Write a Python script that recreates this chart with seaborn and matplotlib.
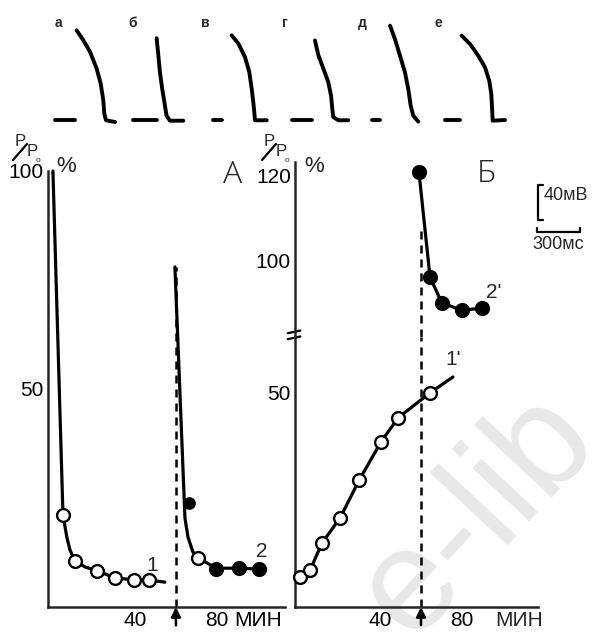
import matplotlib
matplotlib.use("Agg")
import matplotlib.pyplot as plt
import seaborn as sns

# ---------------- data ----------------
# Action potential repolarisation traces (time in ms, potential in mV above rest)
trace_labels = ["а", "б", "в", "г", "д", "е"]
rest_t = [[0, 140], [0, 167], [0, 63], [0, 140], [0, 56], [0, 105]]
ap_t = [
    [151, 198, 244, 291, 319, 337, 344, 356, 419],
    [165, 177, 188, 204, 223, 234, 258, 351],
    [130, 177, 223, 253, 270, 281, 288, 293, 375],
    [160, 184, 219, 253, 272, 281, 288, 323, 393],
    [126, 160, 195, 230, 253, 270, 288, 323],
    [116, 174, 232, 279, 309, 323, 328, 333, 419],
]
ap_v = [
    [102.5, 91, 78, 58.6, 41.5, 22.5, 7.2, -0.3, -2.3],
    [93.4, 73.5, 54.5, 35.4, 16.3, 4.9, -0.8, -0.8],
    [96.8, 87.3, 72, 54.9, 35.8, 20.6, 9.1, -0.3, -0.3],
    [91, 74, 58.6, 43.4, 28.2, 13, 3.4, -0.3, -0.3],
    [107.8, 92.6, 73.5, 54.5, 35.4, 16.3, 4.9, -1.9],
    [96.4, 86.9, 73.5, 60.2, 44.9, 29.7, 14.5, -0.8, 0],
]

# Panel A: relative tension P/P0 (%) vs time (min)
a1_line_t = [0, 4.9, 6.8, 8.3, 10.7, 15.6, 21.5, 30.2, 39.5, 46.8, 54.6]
a1_line_p = [100, 21.1, 16.0, 13.1, 10.6, 9.2, 8.3, 6.7, 6.2, 6.2, 5.7]
a1_pts_t = [4.9, 10.7, 21.5, 30.2, 39.5, 46.8]
a1_pts_p = [21.1, 10.6, 8.3, 6.7, 6.2, 6.2]

a2_line_t = [59.5, 64.4, 65.9, 68.3, 72.7, 79.5, 90.7, 100.5]
a2_line_p = [78.0, 20.4, 16.0, 12.6, 10.8, 8.9, 8.9, 8.7]
a2_pts_t = [66.3, 70.7, 79.5, 90.7, 100.5]
a2_pts_p = [23.9, 11.2, 8.7, 8.9, 8.7]
a2_pts_filled = [True, False, True, True, True]

# Panel Б
b1_line_t = [0, 1.0, 5.9, 11.7, 20.5, 29.8, 40.5, 48.8, 64.4, 75.6]
b1_line_p = [6.4, 7.0, 8.6, 14.9, 20.7, 29.5, 38.4, 44.0, 49.8, 53.5]
b1_pts_t = [1.0, 5.9, 11.7, 20.5, 29.8, 40.5, 48.8, 64.4]
b1_pts_p = [7.0, 8.6, 14.9, 20.7, 29.5, 38.4, 44.0, 49.8]

b2_t = [59, 64.4, 70.2, 80.0, 89.8]
b2_p = [120.7, 96.0, 89.9, 88.2, 88.7]

switch_time = 60  # moment of solution change (arrow + dashed line)

x_ticks = [20, 40, 60, 80, 100]
x_ticklabels_a = ["", "40", "", "80", "МИН"]
x_ticklabels_b = ["", "40", "", "80", ""]

# ---------------- style ----------------
sns.set_style("white")
plt.rcParams["font.family"] = ["Liberation Sans", "DejaVu Sans"]
plt.rcParams["axes.linewidth"] = 1.8

W, H = 606, 633
fig = plt.figure(figsize=(W / 100, H / 100), dpi=100)
fig.patch.set_facecolor("white")


def fx(x):
    return x / W


def fy(y):
    return 1 - y / H


def frame(ax):
    sns.despine(ax=ax)
    ax.set_facecolor("none")
    ax.tick_params(direction="in", length=3, width=1.2, pad=3,
                   labelsize=15, colors="black")


def curve(ax, t, p, lw=2.3):
    sns.lineplot(x=t, y=p, ax=ax, sort=False, estimator=None,
                 color="black", lw=lw, clip_on=False, zorder=3)


def dots(ax, t, p, filled=True, s=85):
    sns.scatterplot(x=t, y=p, ax=ax, s=s, marker="o",
                    color="black" if filled else "white",
                    edgecolor="black", linewidth=1.7, zorder=5, clip_on=False)


def arrow(ax, ybot):
    ax.annotate("", xy=(switch_time, 0), xycoords=("data", "axes fraction"),
                xytext=(switch_time, ybot), textcoords=("data", "axes fraction"),
                arrowprops=dict(arrowstyle="-|>", color="black", lw=1.8,
                                mutation_scale=14, shrinkA=0, shrinkB=0),
                annotation_clip=False)


dash_style = (0, (3.2, 2.4))

# faint library stamp across the lower right
fig.text(fx(478), fy(515), "e-lib", fontsize=105, rotation=47, color="#e8e8e8",
         ha="center", va="center", zorder=-5)

# ---------------- panel A ----------------
axA = fig.add_axes([fx(48), fy(607), fx(237), 436 / H])
frame(axA)
axA.set_xlim(-2.4, 113.2)
axA.set_ylim(0, 100)
curve(axA, a1_line_t, a1_line_p)
dots(axA, a1_pts_t, a1_pts_p, filled=False)
curve(axA, a2_line_t, a2_line_p)
for t, p, f in zip(a2_pts_t, a2_pts_p, a2_pts_filled):
    dots(axA, [t], [p], filled=f, s=85 if t > 67 else 55)
axA.vlines(switch_time, 0, a2_line_p[0], colors="black", lw=1.8,
           linestyles=[dash_style], zorder=2)
axA.set_xticks(x_ticks)
axA.set_xticklabels(x_ticklabels_a)
axA.set_yticks(range(10, 101, 10))
axA.set_yticklabels(["50" if v == 50 else "100" if v == 100 else "" for v in range(10, 101, 10)])
arrow(axA, -0.042)
axA.text(48.3, 9.6, "1", fontsize=15, ha="center", va="center")
axA.text(102, 12.8, "2", fontsize=15, ha="center", va="center")

# ---------------- panel Б (broken y axis) ----------------
axBl = fig.add_axes([fx(295), fy(607), fx(243), 270 / H])
axBu = fig.add_axes([fx(295), fy(337), fx(243), 175 / H])
for ax in (axBl, axBu):
    frame(ax)
    ax.set_xlim(-1.5, 117.1)
axBl.set_ylim(0, 62.8)
axBu.set_ylim(81.9, 123.1)
axBu.spines["bottom"].set_visible(False)
axBu.tick_params(axis="x", bottom=False, labelbottom=False)

curve(axBl, b1_line_t, b1_line_p)
dots(axBl, b1_pts_t, b1_pts_p, filled=False)
curve(axBu, b2_t, b2_p)
dots(axBu, b2_t, b2_p, filled=True)

axBl.vlines(switch_time, 0, 62.8, colors="black", lw=1.8, linestyles=[dash_style], zorder=2)
axBu.vlines(switch_time, 81.9, 108.2, colors="black", lw=1.8, linestyles=[dash_style], zorder=2)

axBl.set_xticks(x_ticks)
axBl.set_xticklabels(x_ticklabels_b)
axBl.set_yticks(range(10, 61, 10))
axBl.set_yticklabels(["50" if v == 50 else "" for v in range(10, 61, 10)])
axBu.set_yticks([90, 100, 110, 120])
axBu.set_yticklabels(["", "100", "", "120"])
axBl.annotate("МИН", xy=(108, 0), xycoords=("data", "axes fraction"),
              xytext=(0, -9.5), textcoords="offset points",
              ha="center", va="center", fontsize=15, annotation_clip=False)
arrow(axBl, -0.067)

# break marks on the y axis
for dy in (0.0, 0.022):
    axBl.plot([-0.03, 0.022], [0.992 + dy, 1.002 + dy], transform=axBl.transAxes,
              color="black", lw=1.6, clip_on=False)

axBl.text(75.6, 57.5, "1'", fontsize=15, ha="center", va="center")
axBu.text(95.5, 92.3, "2'", fontsize=15, ha="center", va="center")


# ---------------- axis captions ----------------
def ratio_label(x0):
    fig.text(fx(x0 + 7), fy(141), "P", fontsize=12, ha="center", va="center")
    fig.add_artist(plt.Line2D([fx(x0), fx(x0 + 14)], [fy(160), fy(144)],
                              color="black", lw=1.6))
    fig.text(fx(x0 + 19), fy(151), "P", fontsize=12, ha="center", va="center")
    fig.text(fx(x0 + 25), fy(160), "o", fontsize=6, ha="center", va="center")


ratio_label(13)
ratio_label(262)
fig.text(fx(66), fy(166), "%", fontsize=16, ha="center", va="center")
fig.text(fx(314), fy(167), "%", fontsize=16, ha="center", va="center")
fig.text(fx(233), fy(175), "А", fontsize=23, ha="center", va="center",
         family=["Open Sans", "Liberation Sans"], fontweight="light")
fig.text(fx(486), fy(174), "Б", fontsize=23, ha="center", va="center",
         family=["Open Sans", "Liberation Sans"], fontweight="light")

# ---------------- action potential traces ----------------
MS_PER_PX = 300 / 43
MV_PER_PX = 40 / 35
axT = fig.add_axes([0, 0, 1, 1])
axT.set_axis_off()
axT.set_xlim(0, W * MS_PER_PX)
axT.set_ylim(-(H - 120) * MV_PER_PX, 120 * MV_PER_PX)

trace_x0 = [55, 133, 213, 292, 372, 445]       # left end of each record, px
label_x = [58, 133, 205, 285, 362, 438]
for i in range(6):
    off = trace_x0[i] * MS_PER_PX
    sns.lineplot(x=[off + t for t in rest_t[i]], y=[0, 0], ax=axT, sort=False,
                 estimator=None, color="black", lw=2.8)
    sns.lineplot(x=[off + t for t in ap_t[i]], y=ap_v[i], ax=axT, sort=False,
                 estimator=None, color="black", lw=2.8)
    axT.text(label_x[i] * MS_PER_PX, 111, trace_labels[i], fontsize=10,
             fontweight="bold", ha="center", va="center")

# calibration: 40 mV / 300 ms
bx = 538 * MS_PER_PX
by = (120 - 220) * MV_PER_PX
axT.plot([bx + 35, bx, bx, bx + 35], [by + 40, by + 40, by, by], color="black", lw=1.6)
hy = (120 - 232) * MV_PER_PX
hx = 537 * MS_PER_PX
axT.plot([hx, hx, hx + 300, hx + 300], [hy + 5, hy, hy, hy + 5], color="black", lw=1.6)
axT.text(bx + 40, by + 28, "40мВ", fontsize=13, ha="left", va="center")
axT.text(hx + 150, hy - 14, "300мс", fontsize=13, ha="center", va="center")

fig.savefig("out.png", dpi=100, facecolor="white")
